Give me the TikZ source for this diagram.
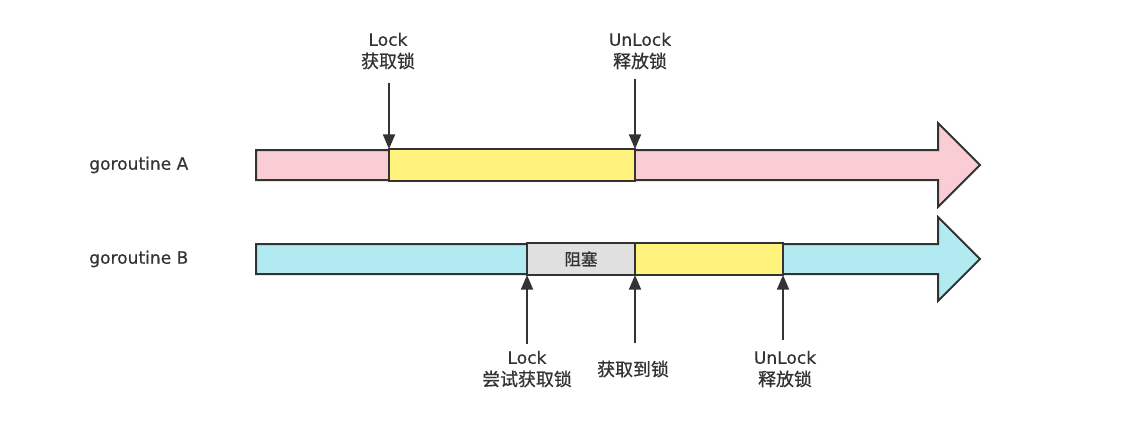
\documentclass[tikz,border=0pt]{standalone}
\usepackage{fontspec}
\setmainfont{DejaVu Sans}[FakeBold=0.4]
\newfontfamily\cjk{Noto Sans CJK SC}[FakeBold=0.8,Scale=1.05]
\usetikzlibrary{arrows.meta}
\definecolor{pinkA}{HTML}{FACCD4}
\definecolor{cyanB}{HTML}{B1EBF1}
\definecolor{yellowL}{HTML}{FFF27D}
\definecolor{greyW}{HTML}{E0E0E0}
\definecolor{ink}{HTML}{333333}
\begin{document}
\begin{tikzpicture}[x=0.75pt,y=-0.75pt,
  lane/.style={draw=ink,line width=1.5pt,line join=miter},
  seg/.style={draw=ink,line width=1.5pt,anchor=north west,inner sep=0pt,outer sep=0pt,minimum height=32*0.75pt},
  pointer/.style={draw=ink,line width=1.5pt,-{Triangle[length=11pt,width=9pt]}},
  lbl/.style={text=ink,align=center,font=\fontsize{12.8}{16.5}\selectfont,inner sep=0pt},
  lanename/.style={text=ink,anchor=west,font=\fontsize{12.8}{15}\selectfont,inner sep=0pt}]
\useasboundingbox (0,0) rectangle (1144,430);
% lane A
\draw[lane,fill=pinkA] (256,150) -- (938,150) -- (938,123) -- (980,165) -- (938,207) -- (938,180) -- (256,180) -- cycle;
\node[seg,fill=yellowL,minimum width=246*0.75pt] (yA) at (389,149) {};
% lane B
\draw[lane,fill=cyanB] (256,244) -- (938,244) -- (938,217) -- (980,259) -- (938,301) -- (938,274) -- (256,274) -- cycle;
\node[seg,fill=greyW,minimum width=108*0.75pt,text=ink,font=\cjk\fontsize{11.8}{13}\selectfont] (gB) at (527,243) {阻塞};
\node[seg,fill=yellowL,minimum width=148*0.75pt] (yB) at (635,243) {};
% names
\node[lanename] (nA) at (89,165) {goroutine A};
\node[lanename] (nB) at (89,259) {goroutine B};
% top labels
\node[lbl] (lA) at (388,51) {Lock\\{\cjk 获取锁}};
\node[lbl] (uA) at (640,51) {UnLock\\{\cjk 释放锁}};
\coordinate (lAs) at (389,83);
\coordinate (uAs) at (635,79);
\draw[pointer] (lAs) -- (yA.north west);
\draw[pointer] (uAs) -- (yA.north east);
% bottom labels
\node[lbl] (lB) at (527,369) {Lock\\{\cjk 尝试获取锁}};
\node[lbl] (gotB) at (633,369) {{\cjk 获取到锁}};
\node[lbl] (uB) at (785,369) {UnLock\\{\cjk 释放锁}};
\coordinate (lBs) at (527,344);
\coordinate (gBs) at (635,343);
\coordinate (uBs) at (783,340);
\draw[pointer] (lBs) -- (gB.south west);
\draw[pointer] (gBs) -- (gB.south east);
\draw[pointer] (uBs) -- (yB.south east);
\end{tikzpicture}
\end{document}
